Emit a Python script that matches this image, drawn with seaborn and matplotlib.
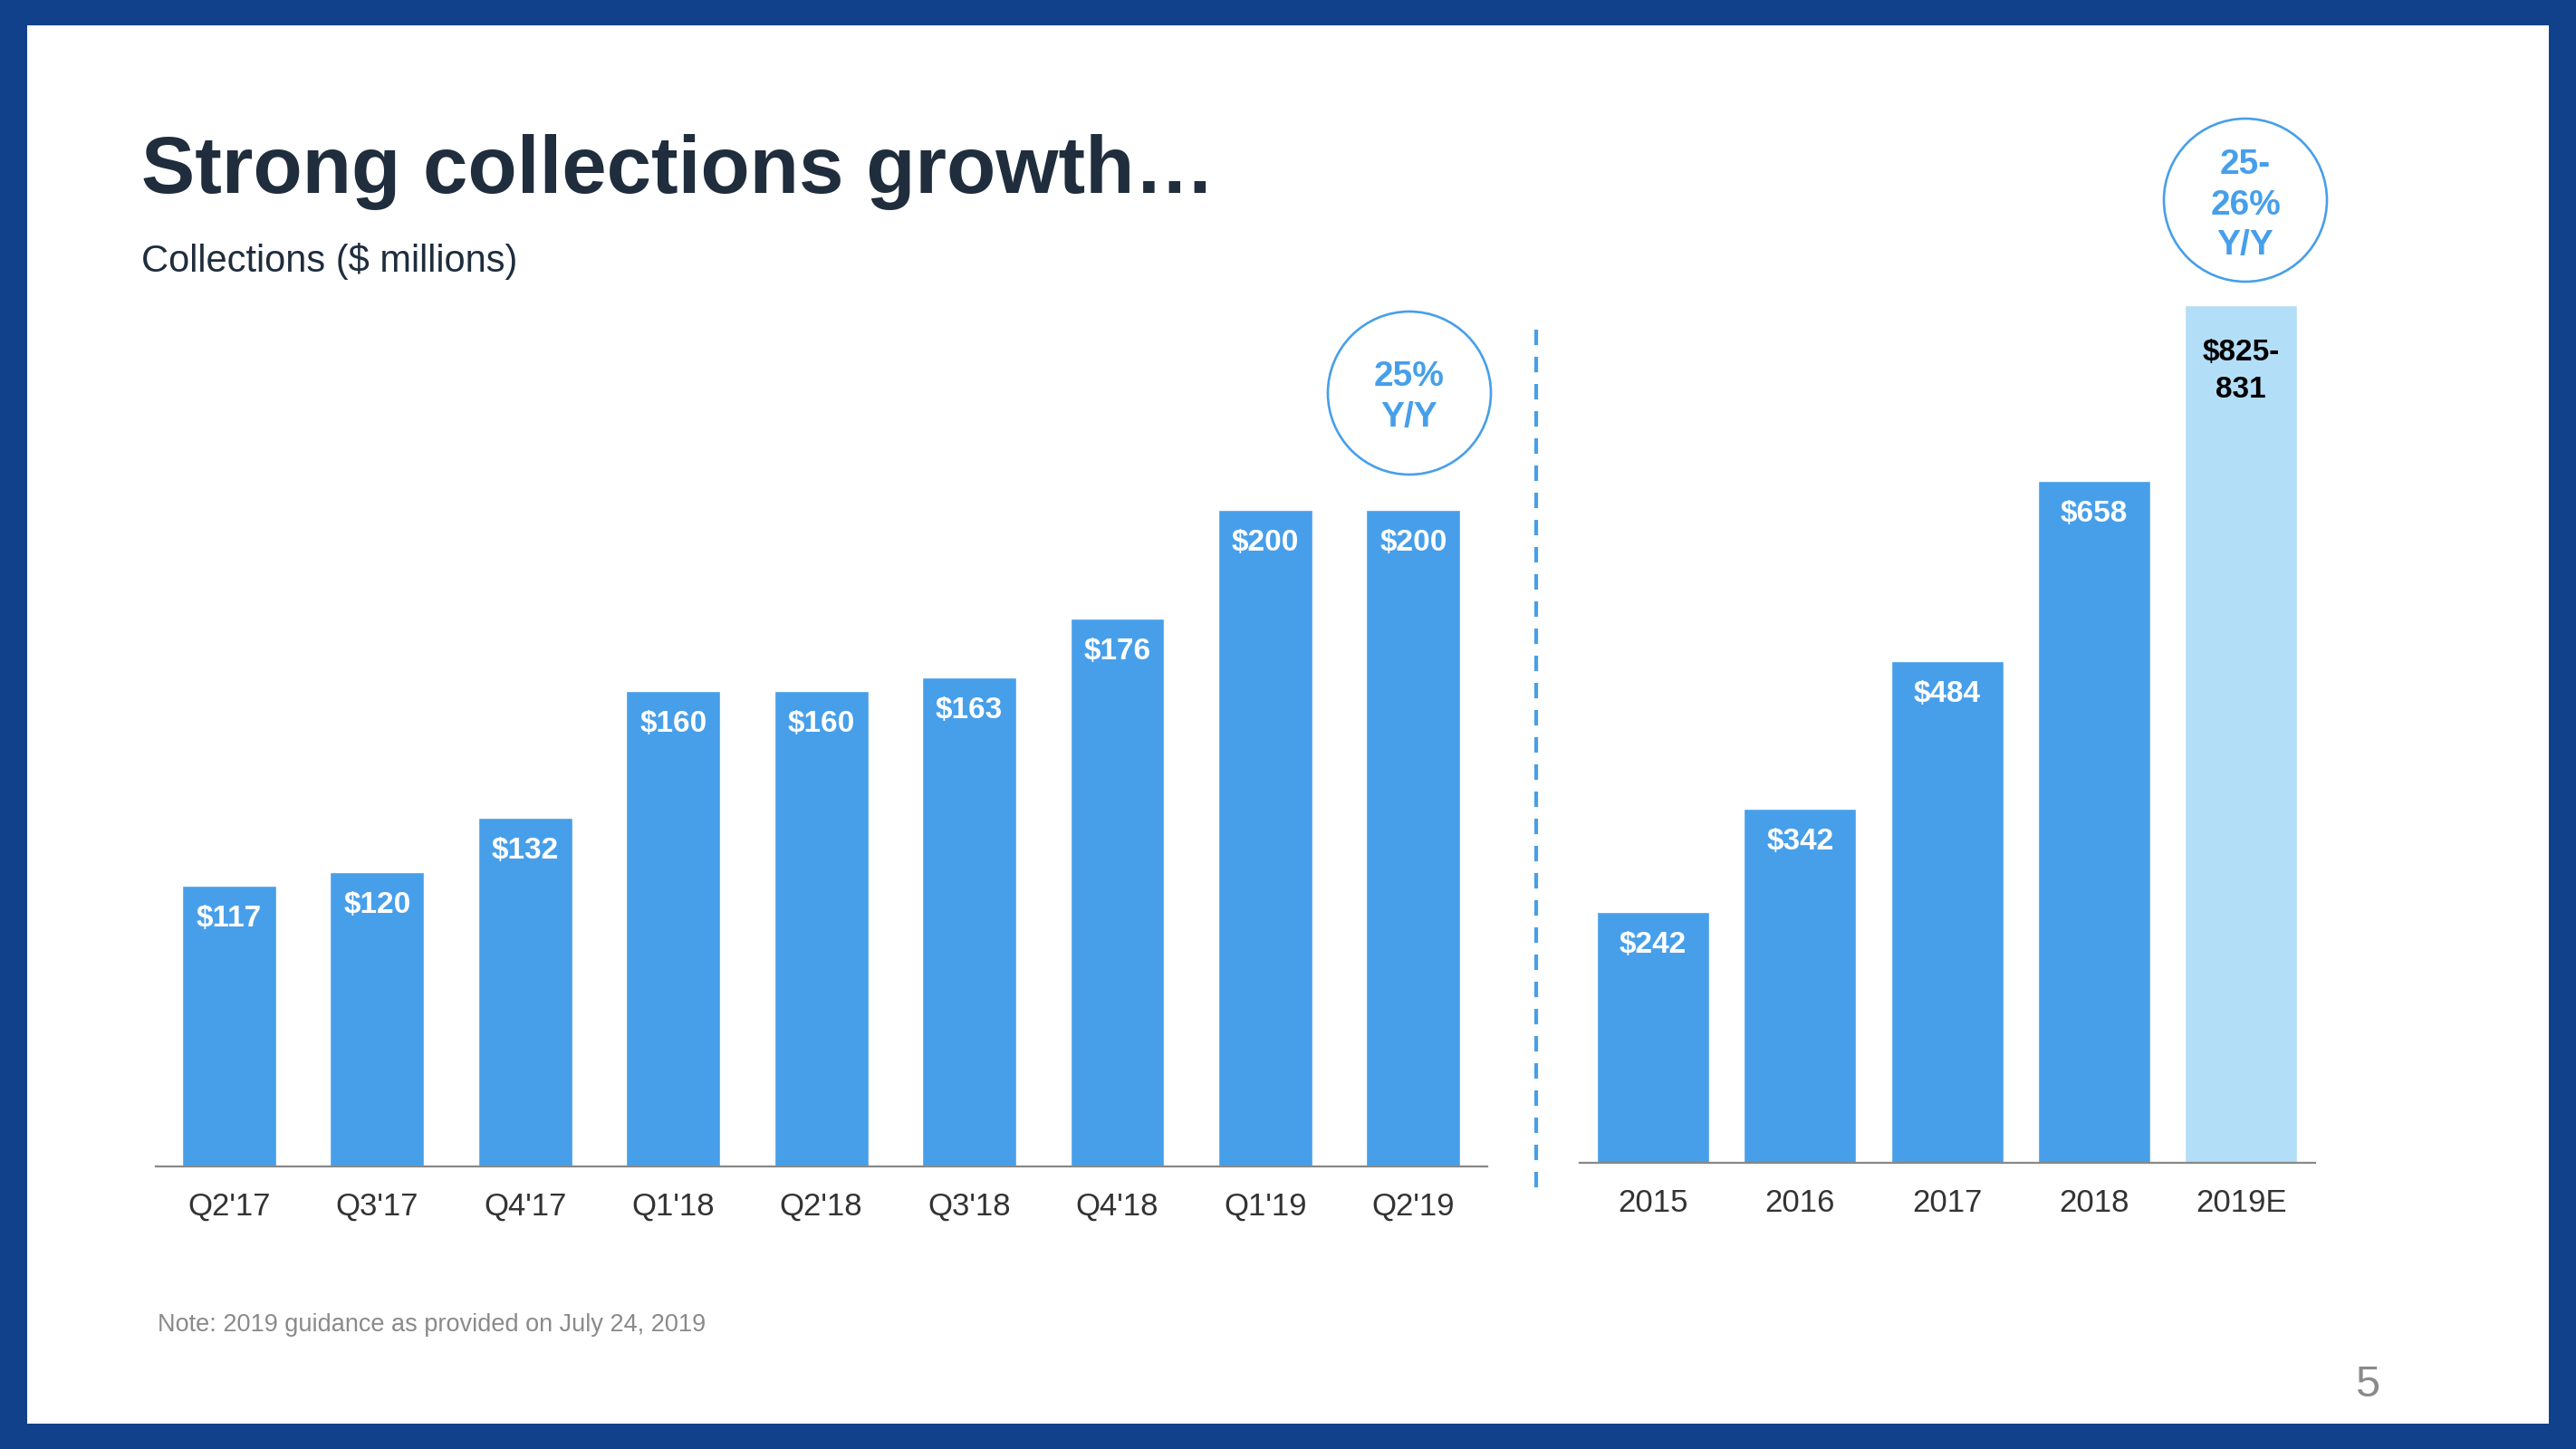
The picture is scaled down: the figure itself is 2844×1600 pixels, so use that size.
import matplotlib
matplotlib.use("Agg")
import matplotlib.pyplot as plt
import seaborn as sns
from matplotlib.patches import Rectangle, Ellipse
from matplotlib.lines import Line2D

# Quarterly collections ($ millions)
quarters = ["Q2'17", "Q3'17", "Q4'17", "Q1'18", "Q2'18", "Q3'18", "Q4'18", "Q1'19", "Q2'19"]
quarter_vals = [117, 120, 132, 160, 160, 163, 176, 200, 200]
quarter_labels = ["$117", "$120", "$132", "$160", "$160", "$163", "$176", "$200", "$200"]

# Annual collections ($ millions), 2019E = midpoint of guidance
years = ["2015", "2016", "2017", "2018", "2019E"]
year_vals = [242, 342, 484, 658, 828]
year_labels = ["$242", "$342", "$484", "$658", "$825-\n831"]

sns.set_style("white")
plt.rcParams['font.family'] = ['Liberation Sans', 'DejaVu Sans']

W, H = 2844, 1600
BLUE = "#479FEA"
LIGHT = "#B3DEF7"
NAVY = "#12418B"
DARK = "#1F2D3D"


def fx(px):
    return px / W


def fy(py):
    return 1 - py / H


fig = plt.figure(figsize=(W / 100, H / 100), dpi=100)
fig.patch.set_facecolor(NAVY)
fig.add_artist(Rectangle((fx(30), fy(1572)), fx(2814) - fx(30), fy(28) - fy(1572),
                         transform=fig.transFigure, facecolor="white", edgecolor="none", zorder=-5))

# title + subtitle
fig.text(fx(156), fy(213), "Strong collections growth\u2026", fontsize=64, fontweight="bold",
         color=DARK, va="baseline", ha="left")
fig.text(fx(156), fy(300), "Collections ($ millions)", fontsize=30, color=DARK,
         va="baseline", ha="left")


def setup(ax, xlim, ylim):
    ax.set_facecolor("none")
    ax.set_xlim(*xlim)
    ax.set_ylim(*ylim)
    for s in ["top", "right", "left"]:
        ax.spines[s].set_visible(False)
    ax.spines["bottom"].set_color("#888888")
    ax.spines["bottom"].set_linewidth(1.6)
    ax.set_yticks([])
    ax.set_xlabel("")
    ax.set_ylabel("")
    ax.tick_params(axis="x", length=0, pad=20, labelsize=25, labelcolor="#333333")


# left chart: quarters
top_px = 300
ax1 = fig.add_axes([fx(172), fy(1288), fx(1642) - fx(172), fy(top_px) - fy(1288)])
sns.barplot(x=quarters, y=quarter_vals, ax=ax1, color=BLUE, saturation=1, width=0.636)
y0 = 55
setup(ax1, (-0.496, 8.5), (y0, y0 + (1288 - top_px) / 5.0))
for i, (v, lab) in enumerate(zip(quarter_vals, quarter_labels)):
    ax1.annotate(lab, (i, v), xytext=(0, -32.4), textcoords="offset points",
                 ha="center", va="baseline", fontsize=24, fontweight="bold", color="white")

# right chart: years
ax2 = fig.add_axes([fx(1744), fy(1284), fx(2556) - fx(1744), fy(top_px) - fy(1284)])
sns.barplot(x=years, y=year_vals, hue=years, palette=[BLUE] * 4 + [LIGHT], legend=False,
            ax=ax2, saturation=1, width=0.764)
setup(ax2, (-0.5, 4.505), (0, (1284 - top_px) / 1.144))
for i, (v, lab) in enumerate(zip(year_vals, year_labels)):
    if "\n" in lab:
        l1, l2 = lab.split("\n")
        ax2.annotate(l1, (i, v), xytext=(0, -43.9), textcoords="offset points",
                     ha="center", va="baseline", fontsize=24, fontweight="bold", color="black")
        ax2.annotate(l2, (i, v), xytext=(0, -73.4), textcoords="offset points",
                     ha="center", va="baseline", fontsize=24, fontweight="bold", color="black")
    else:
        ax2.annotate(lab, (i, v), xytext=(0, -32.4), textcoords="offset points",
                     ha="center", va="baseline", fontsize=24, fontweight="bold", color="white")

# dashed divider
fig.add_artist(Line2D([fx(1696), fx(1696)], [fy(364), fy(1320)], transform=fig.transFigure,
                      color=BLUE, lw=3, linestyle=(0, (4.1, 3.1))))

# growth circles
def growth_circle(cx, cy, lines, ys):
    fig.add_artist(Ellipse((fx(cx), fy(cy)), 180 / W, 180 / H, transform=fig.transFigure,
                           facecolor="white", edgecolor=BLUE, lw=1.9))
    for t, yb in zip(lines, ys):
        fig.text(fx(cx), fy(yb), t, ha="center", va="baseline", fontsize=28,
                 fontweight="bold", color=BLUE)


growth_circle(1556, 434, ["25%", "Y/Y"], [426, 471])
growth_circle(2479, 221, ["25-", "26%", "Y/Y"], [192, 237, 281])

# footnote and page number
fig.text(fx(174), fy(1470), "Note: 2019 guidance as provided on July 24, 2019", fontsize=19.5,
         color="#8A8A8A", va="baseline", ha="left")
fig.text(fx(2627), fy(1542), "5", fontsize=35, color="#8A8A8A", va="baseline", ha="right")

fig.savefig("out.png", dpi=100, facecolor=fig.get_facecolor())
